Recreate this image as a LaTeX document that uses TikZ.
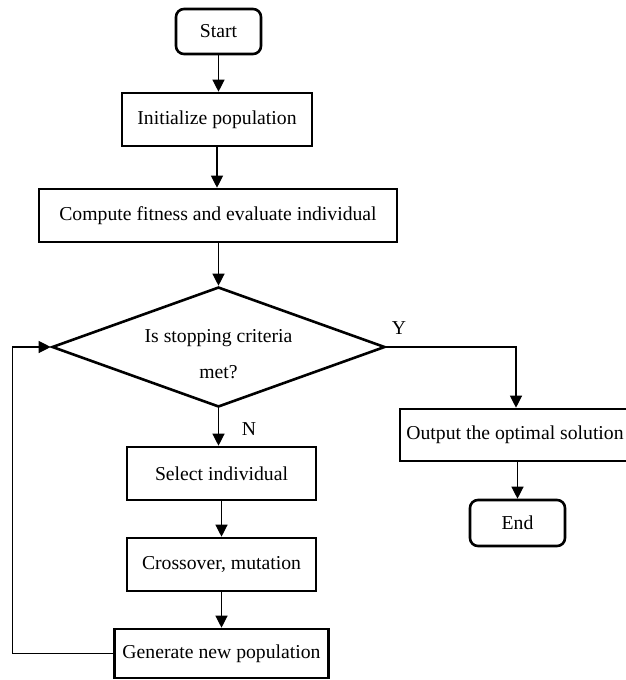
\documentclass[tikz,border=0pt]{standalone}
\usepackage{fontspec}
\setmainfont{Liberation Serif}
\usetikzlibrary{shapes.geometric,arrows.meta}
\begin{document}
\begin{tikzpicture}[x=1pt,y=-1pt,
    font=\fontsize{19.7}{23.6}\selectfont,
    box/.style={draw, line width=2.6pt, inner sep=0pt},
    term/.style={box, rounded corners=8pt},
    arr/.style={line width=1.2pt, -{Triangle[length=12pt,width=12pt]}}]
  \useasboundingbox (0,0) rectangle (626,680);

  \node[term, minimum width=85pt, minimum height=45pt] (start) at (218.5,31.5) {Start};
  \node[box, minimum width=190pt, minimum height=53pt] (init) at (217,119.5) {Initialize population};
  \node[box, minimum width=358pt, minimum height=53pt] (fit) at (218,215.5) {Compute fitness and evaluate individual};
  \node[draw, diamond, line width=2.6pt, inner sep=0pt, aspect=2.775,
        minimum width=333pt, minimum height=120pt] (dec) at (218.5,347) {};
  \node[align=center] (dectext) at (218.5,354) {Is stopping criteria\\[12.4pt]met?};

  \node[box, minimum width=189pt, minimum height=53pt] (sel) at (221.5,473.5) {Select individual};
  \node[box, minimum width=189pt, minimum height=53pt] (cross) at (221.5,564.5) {Crossover, mutation};
  \node[box, minimum width=214pt, minimum height=49pt] (gen) at (221.5,653.5) {Generate new population};

  \node[box, minimum width=232pt, minimum height=52pt] (out) at (516,435) {\hspace*{-2pt}Output the optimal solution};
  \node[term, minimum width=95pt, minimum height=46pt] (end) at (517.5,523) {End};

  \node (yes) at (399,328) {Y};
  \node (no) at (249,429) {N};

  \draw[arr] (start) -- (start |- init.north);
  \draw[arr] (init) -- (init |- fit.north);
  \draw[arr] (fit.south -| dec.north) -- (dec.north);
  \draw[arr] (dec.south) -- (dec.south |- sel.north);
  \draw[arr] (sel) -- (cross);
  \draw[arr] (cross) -- (gen);
  \draw[arr] (gen.west) -- ++(-101,0) |- (dec.west);
  \draw[arr] (dec.east) -| (out.north);
  \draw[arr] (out.south -| end.north) -- (end.north);
\end{tikzpicture}
\end{document}
